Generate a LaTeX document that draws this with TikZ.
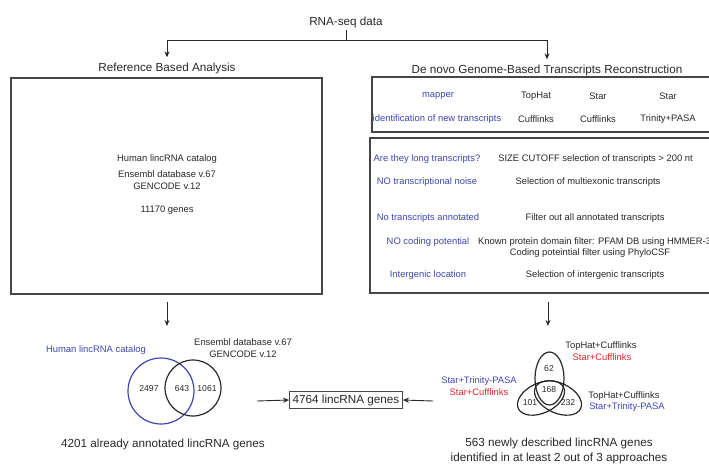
\documentclass[tikz,border=0pt]{standalone}
\usepackage{fontspec}
\setmainfont{Liberation Sans}
\usetikzlibrary{arrows.meta,calc}
\definecolor{ink}{RGB}{40,40,40}
\definecolor{framegray}{RGB}{70,70,70}
\definecolor{lblue}{RGB}{60,70,175}
\definecolor{lred}{RGB}{225,35,45}
\tikzset{
  big/.style={font=\fontsize{11.7}{14}\selectfont, text=ink, inner sep=0pt},
  small/.style={font=\fontsize{9.4}{11.5}\selectfont, text=ink, inner sep=0pt},
  num/.style={font=\fontsize{8.6}{10}\selectfont, text=ink, inner sep=0pt},
  bluelab/.style={small, text=lblue},
  redlab/.style={small, text=lred},
  frame/.style={draw=framegray, line width=1.4pt},
  arr/.style={draw=ink, line width=0.9pt, -{Stealth[length=6pt,width=5pt]}},
  conn/.style={draw=ink, line width=0.9pt},
  venn/.style={draw=ink, line width=1.2pt},
}
\begin{document}
\begin{tikzpicture}[x=1pt,y=-1pt]
\useasboundingbox (0,0) rectangle (709,463);
\clip (0,0) rectangle (709,463);

% source and branching
\node[big] (rna) at (346,22) {RNA-seq data};
\coordinate (split) at (346,40.5);
\node[big] (refhead) at (167,68) {Reference Based Analysis};
\node[big] (novohead) at (547,70) {De novo Genome-Based Transcripts Reconstruction};
\draw[conn] (rna.south) ++(0,2) -- (split);
\draw[arr] (split) -| ($(refhead.north)+(0,-5)$);
\draw[arr] (split) -| ($(novohead.north)+(0,-5)$);

% reference-based panel
\node[frame, minimum width=311, minimum height=216, inner sep=0pt] (refbox) at (166.5,186) {};
\node[small] (cat) at (167,159) {Human lincRNA catalog};
\node[small, align=center] (ens) at (167,180) {Ensembl database v.67\\GENCODE v.12};
\node[small] (genes) at (167,210) {11170 genes};

% de novo panel: tools
\node[frame, minimum width=360, minimum height=55, inner sep=0pt] (toolbox) at (552,104.5) {};
\node[bluelab] (mapper) at (438,96) {mapper};
\node[small] (m1) at (536,96) {TopHat};
\node[small] (m2) at (598,96) {Star};
\node[small] (m3) at (668,96) {Star};
\node[bluelab] (ident) at (437,119) {identification of new transcripts};
\node[small] (i1) at (536,119) {Cufflinks};
\node[small] (i2) at (598,119) {Cufflinks};
\node[small] (i3) at (668,119) {Trinity+PASA};

% de novo panel: filters
\node[frame, minimum width=362, minimum height=155, inner sep=0pt] (filterbox) at (551,215.5) {};
\node[bluelab] (q1) at (427,159) {Are they long transcripts?};
\node[small] (f1) at (595.5,159) {SIZE CUTOFF selection of transcripts > 200 nt};
\node[bluelab] (q2) at (427,182) {NO transcriptional noise};
\node[small] (f2) at (588,182) {Selection of multiexonic transcripts};
\node[bluelab] (q3) at (428,218) {No transcripts annotated};
\node[small] (f3) at (595,218) {Filter out all annotated transcripts};
\node[bluelab] (q4) at (428,242) {NO coding potential};
\node[small, anchor=west] (f4) at (478,242) {Known protein domain filter: PFAM DB using HMMER-3};
\node[small] (f4b) at (590,253.5) {Coding poteintial filter using PhyloCSF};
\node[bluelab] (q5) at (428,275) {Intergenic location};
\node[small] (f5) at (595,275) {Selection of intergenic transcripts};

% downward arrows
\coordinate (la) at (167,302);
\coordinate (lb) at (167,326);
\coordinate (ra) at (548,302);
\coordinate (rb) at (548,326);
\draw[arr] (la) -- (lb);
\draw[arr] (ra) -- (rb);

% two-set Venn diagram
\draw[lblue, line width=1.2pt] (161,391) circle [radius=33];
\draw[venn] (193,388) circle [radius=28];
\node[bluelab] (hcat) at (96,350) {Human lincRNA catalog};
\node[small, align=center] (ensv) at (243,348) {Ensembl database v.67\\GENCODE v.12};
\node[num] (n1) at (149,389) {2497};
\node[num] (n2) at (182,389) {643};
\node[num] (n3) at (207,389) {1061};
\node[big] (known) at (163,444) {4201 already annotated lincRNA genes};

% three-set Venn diagram
\draw[venn] (549.5,378.5) ellipse [x radius=14.5, y radius=26.5];
\draw[venn, rotate around={25:(541,398)}] (541,398) ellipse [x radius=25, y radius=15];
\draw[venn, rotate around={-25:(558,398)}] (558,398) ellipse [x radius=25, y radius=15];
\node[num] (v1) at (549,369) {62};
\node[num] (v2) at (549,390) {168};
\node[num] (v3) at (530,403) {101};
\node[num] (v4) at (568,403) {232};
\node[small] (ta) at (601,346) {TopHat+Cufflinks};
\node[redlab] (tb) at (602,357) {Star+Cufflinks};
\node[bluelab] (la1) at (479,381) {Star+Trinity-PASA};
\node[redlab] (la2) at (479,392) {Star+Cufflinks};
\node[small] (ra1) at (624,396) {TopHat+Cufflinks};
\node[bluelab] (ra2) at (627,407.5) {Star+Trinity-PASA};
\node[big, align=center, font=\fontsize{11.7}{14.5}\selectfont] (novel) at (559,451) {563 newly described lincRNA genes\\identified in at least 2 out of 3 approaches};

% merged total
\node[draw=framegray, line width=1.1pt, big, inner xsep=3pt, inner ysep=3pt] (total) at (346,400) {4764 lincRNA genes};
\coordinate (lt) at (257,401);
\coordinate (rt) at (433,401);
\draw[arr] (lt) -- (total.west);
\draw[arr] (rt) -- (total.east);
\end{tikzpicture}
\end{document}
